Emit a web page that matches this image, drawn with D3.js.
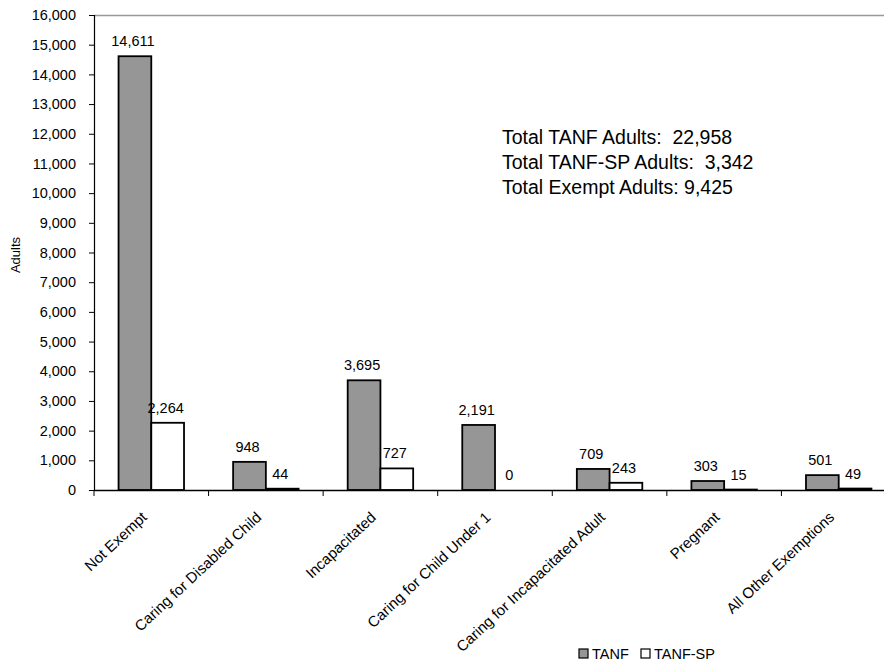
<!DOCTYPE html>
<html>
<head>
<meta charset="utf-8">
<script src="https://cdn.jsdelivr.net/npm/d3@7"></script>
<style>
  html, body { margin: 0; padding: 0; background: #fff; }
  svg { display: block; font-family: Arial, "Liberation Sans", sans-serif; }
</style>
</head>
<body>
<svg id="chart" width="884" height="662"></svg>
<script>
// Exemption categories for adults in the caseload
const categories = [
  "Not Exempt",
  "Caring for Disabled Child",
  "Incapacitated",
  "Caring for Child Under 1",
  "Caring for Incapacitated Adult",
  "Pregnant",
  "All Other Exemptions"
];
const seriesNames = ["TANF", "TANF-SP"];
const tanfValues = [14611, 948, 3695, 2191, 709, 303, 501];
const tanfSpValues = [2264, 44, 727, 0, 243, 15, 49];
const yTicks = [0, 1000, 2000, 3000, 4000, 5000, 6000, 7000, 8000,
                9000, 10000, 11000, 12000, 13000, 14000, 15000, 16000];
const totalsLines = [
  "Total TANF Adults:  22,958",
  "Total TANF-SP Adults:  3,342",
  "Total Exempt Adults: 9,425"
];

const seriesColors = { "TANF": "#969696", "TANF-SP": "#ffffff" };

const svg = d3.select("#chart");
const plot = { left: 94, right: 896, top: 15, bottom: 490 };

const x = d3.scaleBand().domain(categories).range([plot.left, plot.right]).paddingInner(0).paddingOuter(0);
const inner = d3.scaleBand().domain(seriesNames).range([0, x.bandwidth()]).paddingInner(0).paddingOuter(0.75);
const y = d3.scaleLinear().domain([0, 16000]).range([plot.bottom, plot.top]);

const fmt = d3.format(",");

// top border of the plot area
svg.append("line")
  .attr("x1", plot.left).attr("x2", 884)
  .attr("y1", plot.top + 0.5).attr("y2", plot.top + 0.5)
  .attr("stroke", "#999").attr("stroke-width", 1.5);

// y axis
const yAxis = d3.axisLeft(y).tickValues(yTicks).tickFormat(fmt).tickSize(5).tickPadding(13);
const yG = svg.append("g").attr("transform", `translate(${plot.left},0)`).call(yAxis);
yG.select(".domain").attr("stroke", "#000").attr("stroke-width", 1.2);
yG.selectAll(".tick line").attr("stroke", "#000");
yG.selectAll(".tick text").attr("font-size", 14.5).attr("fill", "#000")
  .attr("font-family", "Arial, 'Liberation Sans', sans-serif");

// y axis title
svg.append("text")
  .attr("transform", "translate(20,255) rotate(-90)")
  .attr("text-anchor", "middle")
  .attr("font-size", 13)
  .text("Adults");

// bars
const rows = categories.map((c, i) => ({ cat: c, values: [
  { s: "TANF", v: tanfValues[i] },
  { s: "TANF-SP", v: tanfSpValues[i] }
]}));

const groups = svg.append("g").selectAll("g").data(rows).join("g")
  .attr("transform", d => `translate(${x(d.cat)},0)`);

groups.selectAll("rect").data(d => d.values).join("rect")
  .attr("x", d => inner(d.s))
  .attr("width", inner.bandwidth())
  .attr("y", d => y(d.v))
  .attr("height", d => y(0) - y(d.v))
  .attr("fill", d => seriesColors[d.s])
  .attr("stroke", "#000")
  .attr("stroke-width", 1.8);

groups.selectAll("text.val").data(d => d.values).join("text")
  .attr("class", "val")
  .attr("x", d => inner(d.s) + inner.bandwidth() / 2 - 2)
  .attr("y", d => y(d.v) - 10)
  .attr("text-anchor", "middle")
  .attr("font-size", 14.5)
  .text(d => fmt(d.v));

// x axis
const xAxis = d3.axisBottom(x).tickSize(0).tickFormat("");
const xG = svg.append("g").attr("transform", `translate(0,${plot.bottom})`).call(xAxis);
xG.select(".domain").attr("stroke", "#000").attr("stroke-width", 1.5);

// tick marks at category boundaries
svg.append("g").selectAll("line").data(categories).join("line")
  .attr("x1", d => x(d)).attr("x2", d => x(d))
  .attr("y1", plot.bottom).attr("y2", plot.bottom + 6)
  .attr("stroke", "#000").attr("stroke-width", 1);

// rotated category labels
svg.append("g").selectAll("text").data(categories).join("text")
  .attr("transform", d => `translate(${x(d) + x.bandwidth() / 2 - 3.5},${plot.bottom + 28.5}) rotate(-43)`)
  .attr("text-anchor", "end")
  .attr("font-size", 15)
  .text(d => d);

// totals annotation
svg.append("g").selectAll("text").data(totalsLines).join("text")
  .attr("x", 502)
  .attr("y", (d, i) => 144 + i * 25)
  .attr("font-size", 19.5)
  .attr("xml:space", "preserve")
  .style("white-space", "pre")
  .text(d => d);

// legend
const legend = svg.append("g").attr("transform", "translate(579,649)");
const legendOffsets = [0, 62];
seriesNames.forEach((s, i) => {
  const g = legend.append("g").attr("transform", `translate(${legendOffsets[i]},0)`);
  g.append("rect").attr("width", 9).attr("height", 9)
    .attr("fill", seriesColors[s]).attr("stroke", "#000").attr("stroke-width", 1.2);
  g.append("text").attr("x", 13).attr("y", 10).attr("font-size", 14.5).text(s);
});
</script>
</body>
</html>
